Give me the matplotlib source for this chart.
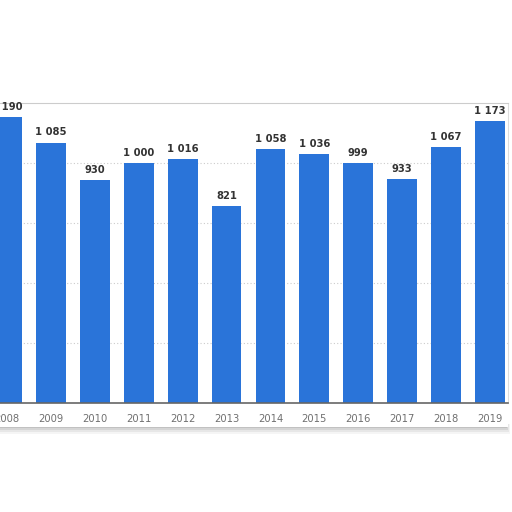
import matplotlib.pyplot as plt
from matplotlib.patches import Rectangle

years = ['2008', '2009', '2010', '2011', '2012', '2013',
         '2014', '2015', '2016', '2017', '2018', '2019']
values = [1190, 1085, 930, 1000, 1016, 821, 1058, 1036, 999, 933, 1067, 1173]

BAR_COLOR = '#2a74d9'
W, H = 512, 512

fig = plt.figure(figsize=(W / 100, H / 100), dpi=100)
fig.patch.set_facecolor('white')

# soft shadow under the "paper"
for i, a in enumerate([0.08, 0.12, 0.18, 0.25]):
    fig.patches.append(Rectangle((0, (512 - 434 + i * 2) / H), 510 / W - i * 0.002,
                                 (10 - i * 2) / H, transform=fig.transFigure,
                                 color='#888888', alpha=a, lw=0, zorder=0))
fig.patches.append(Rectangle((0, (512 - 427) / H), 508 / W, 327 / H,
                             transform=fig.transFigure, facecolor='white',
                             edgecolor='none', zorder=0.5))

ax = fig.add_axes([0, (512 - 403) / H, 508 / W, 300 / H])
ax.set_zorder(2)
ax.set_facecolor('white')
x = list(range(len(years)))
ax.bar(x, values, width=0.68, color=BAR_COLOR, zorder=3)
for xi, v in zip(x, values):
    label = f'{v:,}'.replace(',', ' ')
    ax.text(xi, v + 22, label, ha='center', va='bottom', fontsize=7.2,
            fontweight='bold', color='#333333', zorder=4)

ax.set_xlim(-0.16, 11.41)
ax.set_ylim(0, 1250)
ax.set_yticks([250, 500, 750, 1000])
ax.set_yticklabels([])
ax.tick_params(axis='y', length=0)
ax.grid(axis='y', linestyle=(0, (1, 2)), color='#cccccc', lw=0.8, zorder=1)
ax.set_xticks(x)
ax.set_xticklabels(years, fontsize=7.2, color='#707070')
ax.tick_params(axis='x', length=0, pad=8)
ax.spines['left'].set_visible(False)
ax.spines['right'].set_color('#dddddd')
ax.spines['top'].set_color('#cccccc')
ax.spines['bottom'].set_color('#666666')
ax.spines['bottom'].set_linewidth(1.2)
ax.spines['bottom'].set_zorder(5)

fig.savefig('out.png', dpi=100)
